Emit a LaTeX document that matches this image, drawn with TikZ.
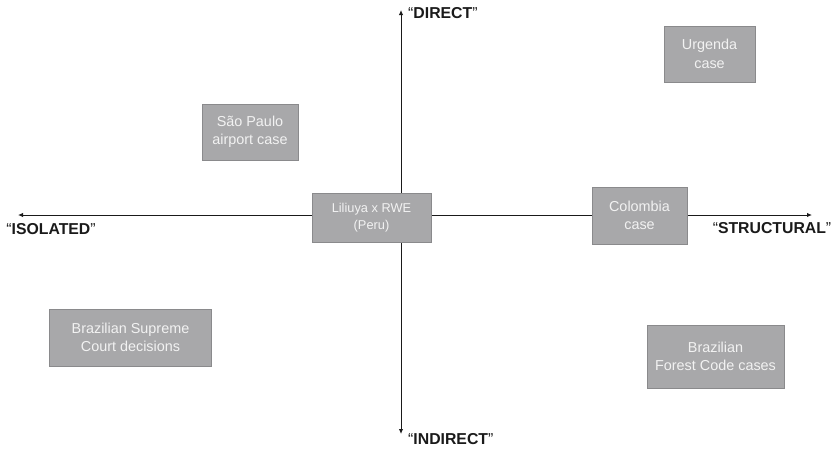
\documentclass[tikz,border=0pt]{standalone}
\usepackage{fontspec}
\setmainfont{Liberation Sans}
\usetikzlibrary{arrows.meta}
\definecolor{boxfill}{HTML}{A8A8AA}
\definecolor{boxline}{HTML}{8A8A8C}
\definecolor{boxtext}{HTML}{F2F2F2}
\definecolor{axisc}{HTML}{1A1A1A}
\tikzset{
  casebox/.style={draw=boxline, line width=0.9pt, fill=boxfill, text=boxtext,
    inner sep=0pt, outer sep=0pt, align=center,
    font=\fontsize{14.4}{18.5}\selectfont},
  axisline/.style={draw=axisc, line width=1pt, -{Latex[length=5pt,width=4.5pt]}},
  axislabel/.style={inner sep=0pt, text=axisc, font=\fontsize{15.8}{18}\selectfont}
}
\begin{document}
\begin{tikzpicture}[x=1pt,y=-1pt]
\useasboundingbox (0,0) rectangle (837,448);
% axis ends
\coordinate (cx) at (401,215);
\coordinate (left) at (18,215);
\coordinate (right) at (812,215);
\coordinate (top) at (401,10);
\coordinate (bottom) at (401,434);
\draw[axisline] (cx) -- (left);
\draw[axisline] (cx) -- (right);
\draw[axisline] (cx) -- (top);
\draw[axisline] (cx) -- (bottom);
% labels
\node[axislabel] (isolated) at (51,229) {``\textbf{ISOLATED}''};
\node[axislabel] (structural) at (772,228) {``\textbf{STRUCTURAL}''};
\node[axislabel, anchor=west] (direct) at (408,13) {``\textbf{DIRECT}''};
\node[axislabel, anchor=west] (indirect) at (408,439) {``\textbf{INDIRECT}''};
% boxes
\node[casebox, minimum width=91pt, minimum height=56pt] (urgenda) at (709.5,54) {Urgenda\\case};
\node[casebox, minimum width=96pt, minimum height=56pt] (saopaulo) at (250,132) {São Paulo\\airport case};
\node[casebox, minimum width=119pt, minimum height=49pt, font=\fontsize{12.8}{16.5}\selectfont] (liliuya) at (371.5,217.5) {Liliuya x RWE\\(Peru)};
\node[casebox, minimum width=95pt, minimum height=57pt] (colombia) at (639.5,215.5) {Colombia\\case};
\node[casebox, minimum width=162pt, minimum height=57pt] (supreme) at (130.5,337.5) {Brazilian Supreme\\Court decisions};
\node[casebox, minimum width=137pt, minimum height=63pt] (forest) at (715.5,356.5) {Brazilian\\Forest Code cases};
\end{tikzpicture}
\end{document}
